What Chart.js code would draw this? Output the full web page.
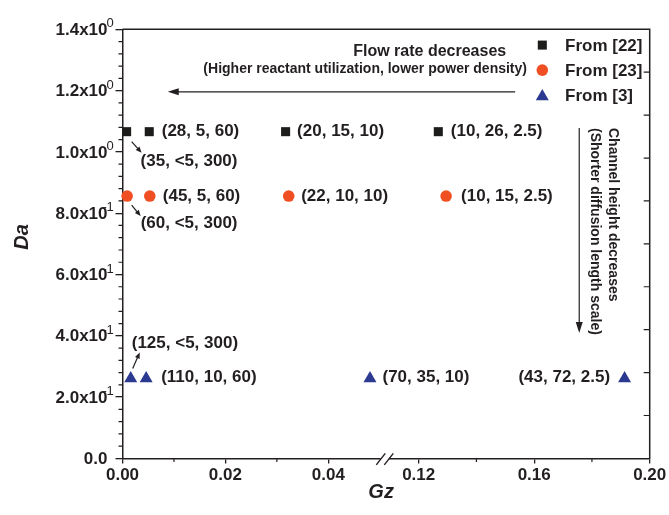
<!DOCTYPE html>
<html>
<head>
<meta charset="utf-8">
<script src="https://cdn.jsdelivr.net/npm/chart.js@4.4.1/dist/chart.umd.min.js"></script>
<style>
  html, body { margin: 0; padding: 0; background: #fff; }
  #wrap { width: 669px; height: 515px; }
</style>
</head>
<body>
<div id="wrap"><canvas id="gzChart"></canvas></div>
<script>
// data
const seriesNames = ['From [22]', 'From [23]', 'From [3]'];

const gz22 = [0.0008, 0.0052, 0.0317, 0.1268];
const da22 = [1.066, 1.066, 1.066, 1.066];
const tags22 = ['(35, <5, 300)', '(28, 5, 60)', '(20, 15, 10)', '(10, 26, 2.5)'];

const gz23 = [0.0009, 0.0053, 0.0323, 0.1295];
const da23 = [0.856, 0.856, 0.856, 0.856];
const tags23 = ['(60, <5, 300)', '(45, 5, 60)', '(22, 10, 10)', '(10, 15, 2.5)'];

const gz3 = [0.0016, 0.0046, 0.0481, 0.1913];
const da3 = [0.261, 0.261, 0.261, 0.261];
const tags3 = ['(125, <5, 300)', '(110, 10, 60)', '(70, 35, 10)', '(43, 72, 2.5)'];

const xTicks = [0, 0.02, 0.04, 0.12, 0.16, 0.20];
const xMinorTicks = [0.01, 0.03, 0.14, 0.18];
const yTicks = [0, 0.2, 0.4, 0.6, 0.8, 1.0, 1.2, 1.4];
const yTickText = ['0.0', '2.0x10', '4.0x10', '6.0x10', '8.0x10', '1.0x10', '1.2x10', '1.4x10'];
const yTickExp = ['', '-1', '-1', '-1', '-1', '0', '0', '0'];

// axis break
const BREAK_LO = 0.05, BREAK_HI = 0.11;
const LEFT_SHARE = 0.488, RIGHT_START = 0.507;

const INK = '#231f20';
const FONT = "'Liberation Sans', Arial, Helvetica, sans-serif";

// label placement: [dx, dy, align, arrow (x1,y1,x2,y2 relative to point)]
const tagLayout = [
  [[14, 30, 'left', [5, 10, 15, 21]], [12.5, 0, 'left'], [11.5, 0, 'left'], [12.5, 0, 'left']],
  [[13.5, 27.5, 'left', [4.5, 9, 13.5, 20]], [13, 0, 'left'], [12.5, 0, 'left'], [15, 0, 'left']],
  [[1, -35, 'left', [2, -10, 9, -26]], [15, -1.5, 'left'], [12.5, -1.5, 'left'], [-14.5, -1.5, 'right']]
];

class BrokenLinearScale extends Chart.LinearScale {
  determineDataLimits() {
    this.min = this.options.min;
    this.max = this.options.max;
  }
  buildTicks() {
    return xTicks.map(v => ({ value: v }));
  }
  getPixelForValue(value) {
    let f;
    if (value <= BREAK_LO) f = (value - this.min) / (BREAK_LO - this.min) * LEFT_SHARE;
    else f = RIGHT_START + (value - BREAK_HI) / (this.max - BREAK_HI) * (1 - RIGHT_START);
    return this.getPixelForDecimal(f);
  }
  getValueForPixel(pixel) {
    const f = this.getDecimalForPixel(pixel);
    if (f <= LEFT_SHARE) return this.min + f / LEFT_SHARE * (BREAK_LO - this.min);
    return BREAK_HI + (f - RIGHT_START) / (1 - RIGHT_START) * (this.max - BREAK_HI);
  }
}
BrokenLinearScale.id = 'brokenLinear';
BrokenLinearScale.defaults = Chart.LinearScale.defaults;
Chart.register(BrokenLinearScale);

function drawArrow(ctx, x1, y1, x2, y2, head, half) {
  const a = Math.atan2(y2 - y1, x2 - x1);
  const c = Math.cos(a), s = Math.sin(a);
  ctx.beginPath();
  ctx.moveTo(x1, y1);
  ctx.lineTo(x2 - c * head * 0.7, y2 - s * head * 0.7);
  ctx.stroke();
  ctx.beginPath();
  ctx.moveTo(x2, y2);
  ctx.lineTo(x2 - c * head + s * half, y2 - s * head - c * half);
  ctx.lineTo(x2 - c * head - s * half, y2 - s * head + c * half);
  ctx.closePath();
  ctx.fill();
}

const decor = {
  id: 'decor',
  beforeDatasetsDraw(chart) {
    const { ctx, chartArea: a, scales: { x, y } } = chart;
    ctx.save();
    ctx.strokeStyle = INK;
    ctx.lineWidth = 1.5;
    ctx.beginPath();
    ctx.moveTo(a.left, a.top);
    ctx.lineTo(a.right, a.top);
    ctx.lineTo(a.right, a.bottom);
    ctx.stroke();

    ctx.lineWidth = 1.2;
    ctx.beginPath();
    for (let k = 1; k < 35; k++) {
      if (k % 5 === 0) continue;
      const py = y.getPixelForValue(k * 0.04);
      ctx.moveTo(a.left - 4, py); ctx.lineTo(a.left, py);
    }
    xMinorTicks.forEach(v => {
      const px = x.getPixelForValue(v);
      ctx.moveTo(px, a.bottom); ctx.lineTo(px, a.bottom + 3.5);
    });
    for (let k = 1; k < 10; k++) {
      const py = y.getPixelForValue(k * 0.14);
      ctx.moveTo(a.right - 6, py); ctx.lineTo(a.right, py);
    }
    ctx.stroke();

    // break marks on the x axis
    const b1 = x.getPixelForValue(BREAK_LO), b2 = x.getPixelForValue(BREAK_HI);
    ctx.fillStyle = '#fff';
    ctx.fillRect(b1 + 1, a.bottom - 3, b2 - b1 - 2, 6);
    ctx.lineWidth = 1.4;
    ctx.beginPath();
    [b1 + 1, b2 - 1].forEach(c => {
      ctx.moveTo(c - 4.5, a.bottom + 6.5);
      ctx.lineTo(c + 4.5, a.bottom - 5);
    });
    ctx.stroke();
    ctx.restore();
  },
  afterDatasetsDraw(chart) {
    const { ctx, chartArea: a, scales: { x, y } } = chart;
    const tags = [tags22, tags23, tags3];
    ctx.save();
    ctx.fillStyle = INK;
    ctx.strokeStyle = INK;
    ctx.lineWidth = 1.2;
    ctx.textBaseline = 'middle';

    // point labels
    ctx.font = 'bold 17px ' + FONT;
    tags.forEach((list, i) => {
      const meta = chart.getDatasetMeta(i);
      list.forEach((t, j) => {
        const el = meta.data[j];
        const [dx, dy, align, arr] = tagLayout[i][j];
        ctx.textAlign = align;
        ctx.fillText(t, el.x + dx, el.y + dy);
        if (arr) drawArrow(ctx, el.x + arr[0], el.y + arr[1], el.x + arr[2], el.y + arr[3], 6, 2.5);
      });
    });

    // flow-rate annotation
    ctx.textAlign = 'right';
    ctx.font = 'bold 16px ' + FONT;
    ctx.fillText('Flow rate decreases', x.getPixelForValue(0.1503), y.getPixelForValue(1.327));
    ctx.font = 'bold 14px ' + FONT;
    ctx.fillText('(Higher reactant utilization, lower power density)', x.getPixelForValue(0.1575), y.getPixelForValue(1.270));
    drawArrow(ctx, x.getPixelForValue(0.1534), y.getPixelForValue(1.196),
      x.getPixelForValue(0.0088), y.getPixelForValue(1.196), 11, 3.5);

    // channel-height annotation
    const ax = x.getPixelForValue(0.1756);
    drawArrow(ctx, ax, y.getPixelForValue(1.078), ax, y.getPixelForValue(0.409), 11, 3.5);
    const textTop = y.getPixelForValue(1.078);
    ctx.textAlign = 'left';
    ctx.font = 'bold 14px ' + FONT;
    [['Channel height decreases', 0.1873], ['(Shorter diffusion length scale)', 0.1811]].forEach(([t, gx]) => {
      ctx.save();
      ctx.translate(x.getPixelForValue(gx), textTop);
      ctx.rotate(Math.PI / 2);
      ctx.fillText(t, 0, 0);
      ctx.restore();
    });

    // legend
    const rowY = [a.top + 16.8, a.top + 41.8, a.top + 66.8];
    chart.data.datasets.forEach((ds, i) => {
      ctx.fillStyle = ds.pointBackgroundColor;
      Chart.helpers.drawPoint(ctx, {
        pointStyle: ds.pointStyle, radius: ds.pointRadius, rotation: 0, borderWidth: 0
      }, a.right - 107.4, rowY[i] + (ds.pointStyle === 'triangle' ? 0.5 : -1));
      ctx.fillStyle = INK;
      ctx.textAlign = 'left';
      ctx.font = 'bold 17px ' + FONT;
      ctx.fillText(ds.label, a.right - 84.7, rowY[i]);
    });

    // y tick labels with exponents
    yTicks.forEach((v, k) => {
      const py = y.getPixelForValue(v);
      ctx.textAlign = 'right';
      ctx.textBaseline = 'middle';
      ctx.font = 'bold 17px ' + FONT;
      ctx.fillText(yTickText[k], a.left - 15, py + 1);
      const e = yTickExp[k];
      if (e) {
        ctx.textAlign = 'left';
        ctx.textBaseline = 'alphabetic';
        ctx.font = '13px ' + FONT;
        const sx = a.left - 16;
        if (e === '-1') {
          ctx.fillText('-', sx - 4, py - 2);
          ctx.fillText('1', sx, py - 2);
        } else {
          ctx.fillText(e, sx, py - 2);
        }
      }
    });

    // axis titles
    ctx.textAlign = 'center';
    ctx.textBaseline = 'middle';
    ctx.font = 'italic bold 20px ' + FONT;
    ctx.fillText('Gz', (a.left + a.right) / 2 - 5, 492);
    ctx.save();
    ctx.translate(22.5, 237);
    ctx.rotate(-Math.PI / 2);
    ctx.fillText('Da', 0, 0);
    ctx.restore();
    ctx.restore();
  }
};

const toPoints = (xs, ys) => xs.map((v, i) => ({ x: v, y: ys[i] }));

new Chart(document.getElementById('gzChart'), {
  type: 'scatter',
  data: {
    datasets: [{
      label: seriesNames[0],
      data: toPoints(gz22, da22),
      pointStyle: 'rect',
      pointRadius: 6.4,
      pointBackgroundColor: '#1d1d1b',
      pointBorderWidth: 0,
      clip: false
    }, {
      label: seriesNames[1],
      data: toPoints(gz23, da23),
      pointStyle: 'circle',
      pointRadius: 5.8,
      pointBackgroundColor: '#f04f23',
      pointBorderWidth: 0,
      clip: false
    }, {
      label: seriesNames[2],
      data: toPoints(gz3, da3),
      pointStyle: 'triangle',
      pointRadius: 7.5,
      pointBackgroundColor: '#2b3990',
      pointBorderWidth: 0,
      clip: false
    }]
  },
  options: {
    responsive: true,
    maintainAspectRatio: false,
    animation: false,
    events: [],
    layout: { padding: { top: 29.3, right: 19.3, left: 0, bottom: 0 } },
    plugins: {
      legend: { display: false },
      tooltip: { enabled: false }
    },
    scales: {
      x: {
        type: 'brokenLinear',
        min: 0,
        max: 0.2,
        afterFit: s => { s.height = 56.6; },
        grid: { drawOnChartArea: false, tickLength: 5, color: INK, lineWidth: 1.3 },
        border: { display: true, color: INK, width: 1.5 },
        ticks: {
          autoSkip: false,
          maxRotation: 0,
          padding: 2,
          color: INK,
          font: { family: FONT, size: 17, weight: 'bold' },
          callback: v => v.toFixed(2)
        }
      },
      y: {
        type: 'linear',
        min: 0,
        max: 1.4,
        afterFit: s => { s.width = 122.5; },
        afterBuildTicks: s => { s.ticks = yTicks.map(v => ({ value: v })); },
        grid: { drawOnChartArea: false, tickLength: 7, color: INK, lineWidth: 1.3 },
        border: { display: true, color: INK, width: 1.5 },
        ticks: { display: false }
      }
    }
  },
  plugins: [decor]
});
</script>
</body>
</html>
